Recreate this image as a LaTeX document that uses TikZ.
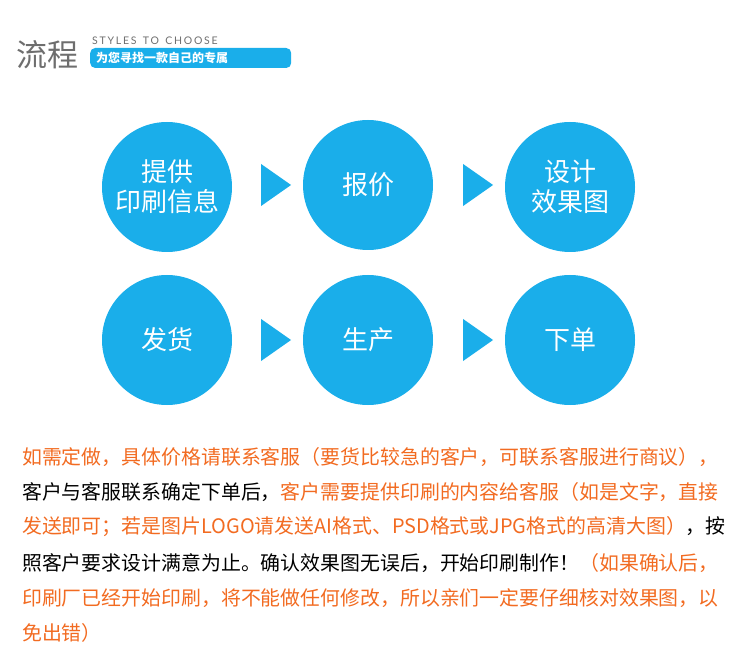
\documentclass[tikz,border=0pt]{standalone}
\usepackage{fontspec}
\setmainfont{Noto Sans CJK SC}
\newfontfamily\latin{Lato}
\usetikzlibrary{shapes.geometric}
\definecolor{skyblue}{HTML}{1AAEEA}
\definecolor{tangerine}{HTML}{F26B21}
\definecolor{slate}{HTML}{6E6E6E}
\tikzset{
  stage/.style={circle, fill=skyblue, minimum size=130pt, inner sep=0pt, text=white,
    align=center, font=\fontsize{26}{30}\selectfont},
  pointer/.style={isosceles triangle, isosceles triangle apex angle=70, fill=skyblue,
    inner sep=0pt, minimum height=30pt, minimum width=38pt},
  para/.style={anchor=west, inner sep=0pt, font=\fontsize{19.9}{20}\selectfont}
}
\begin{document}
\begin{tikzpicture}[x=1pt, y=-1pt]
\useasboundingbox (0,0) rectangle (750,652);
% header
\node [anchor=west, inner sep=0pt, text=slate, font=\fontsize{31}{32}\selectfont] (title) at (16,55) {流程};
\node [anchor=west, inner sep=0pt, text=slate, font=\latin\fontsize{10.5}{11}\selectfont] (tag) at (92,41) {S\,T\,Y\,L\,E\,S\, \,T\,O\, \,C\,H\,O\,O\,S\,E};
\node [anchor=west, fill=skyblue, rounded corners=5pt, text width=189pt, minimum height=20pt,
  inner xsep=6pt, inner ysep=0pt, text=white, font=\bfseries\fontsize{12}{13}\selectfont] (banner) at (90,58)
  {为您寻找一款自己的专属};
% stages
\node [stage] (info) at (167,187) {提供\\印刷信息};
\node [stage] (quote) at (368,185) {报价};
\node [stage] (design) at (570,187) {设计\\效果图};
\node [stage] (ship) at (167,340) {发货};
\node [stage] (make) at (368,340) {生产};
\node [stage] (order) at (570,340) {下单};
\node [pointer] (p1) at (272,185) {};
\node [pointer] (p2) at (474,185) {};
\node [pointer] (p3) at (272,340) {};
\node [pointer] (p4) at (474,340) {};
% notes
\node [para, text=tangerine] (l1) at (22,457) {如需定做，具体价格请联系客服（要货比较急的客户，可联系客服进行商议），};
\node [para] (l2) at (22,492) {客户与客服联系确定下单后，\textcolor{tangerine}{客户需要提供印刷的内容给客服（如是文字，直接}};
\node [para] (l3) at (22,527) {\textcolor{tangerine}{发送即可；若是图片LOGO请发送AI格式、PSD格式或JPG格式的高清大图）}，按};
\node [para] (l4) at (22,563) {照客户要求设计满意为止。确认效果图无误后，开始印刷制作！\textcolor{tangerine}{（如果确认后，}};
\node [para, text=tangerine] (l5) at (22,598) {印刷厂已经开始印刷，将不能做任何修改，所以亲们一定要仔细核对效果图，以};
\node [para, text=tangerine] (l6) at (22,633) {免出错）};
\end{tikzpicture}
\end{document}
